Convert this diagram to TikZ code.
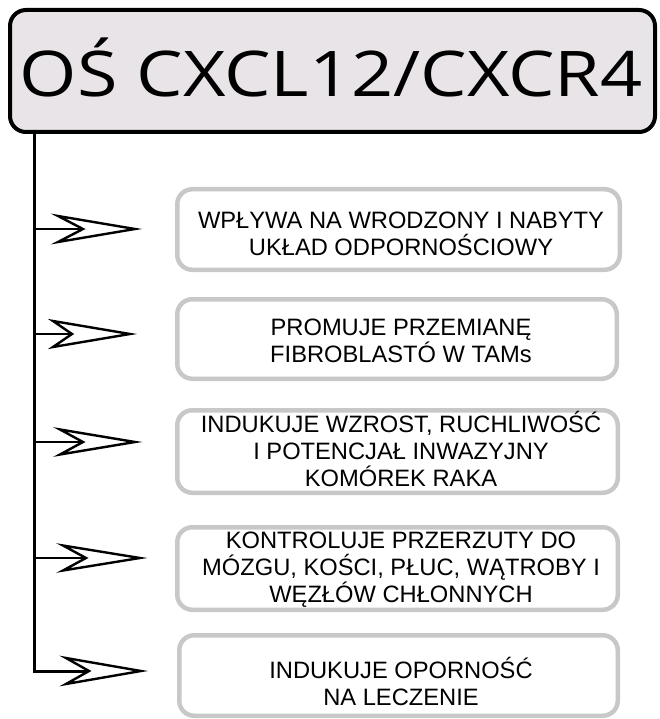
\documentclass[tikz,border=0pt]{standalone}
\usepackage{fontspec}
\setmainfont{Liberation Sans}
\newfontfamily\titlefont[FakeStretch=1.17]{Open Sans}
\definecolor{titlefill}{HTML}{E9E4E7}
\definecolor{boxline}{HTML}{C8C8C8}
\begin{document}
\begin{tikzpicture}[x=1pt,y=-1pt,
  titlebox/.style={draw=black, line width=4pt, fill=titlefill, rounded corners=16pt, inner sep=0pt},
  titletext/.style={font=\titlefont\fontsize{63}{63}\selectfont, anchor=base, inner sep=0pt},
  effectbox/.style={draw=boxline, line width=4.5pt, rounded corners=15pt, inner sep=0pt, fill=white},
  effecttext/.style={font=\fontsize{23.7}{26.8}\selectfont, align=center, anchor=base, inner sep=0pt},
  trunk/.style={line width=3pt, line join=miter},
  branch/.style={line width=2.2pt},
  dart/.style={draw=black, fill=white, line width=2.4pt, line join=miter, miter limit=12}]
\useasboundingbox (0,0) rectangle (659,719);

% heading
\node[titlebox, minimum width=645pt, minimum height=122pt] (title) at (332.5,71) {};
\node[titletext] (titlelabel) at (331,97) {OŚ CXCL12/CXCR4};

% effect boxes
\node[effectbox, minimum width=442.5pt, minimum height=80.5pt] (b1) at (398.5,229.5) {};
\node[effectbox, minimum width=439.5pt, minimum height=79.5pt] (b2) at (397,339) {};
\node[effectbox, minimum width=440.5pt, minimum height=82.5pt] (b3) at (397.5,451.5) {};
\node[effectbox, minimum width=440.5pt, minimum height=82.5pt] (b4) at (397.5,568.5) {};
\node[effectbox, minimum width=438.5pt, minimum height=80.5pt] (b5) at (398.5,675.5) {};

% labels, placed by the baseline of their last line
\node[effecttext] (t1) at (401,255) {WPŁYWA NA WRODZONY I NABYTY\\UKŁAD ODPORNOŚCIOWY};
\node[effecttext] (t2) at (401,362) {PROMUJE PRZEMIANĘ\\FIBROBLASTÓ W TAMs};
\node[effecttext] (t3) at (401,486) {INDUKUJE WZROST, RUCHLIWOŚĆ\\I POTENCJAŁ INWAZYJNY\\KOMÓREK RAKA};
\node[effecttext] (t4) at (401,602) {KONTROLUJE PRZERZUTY DO\\MÓZGU, KOŚCI, PŁUC, WĄTROBY I\\WĘZŁÓW CHŁONNYCH};
\node[effecttext] (t5) at (401,705) {INDUKUJE OPORNOŚĆ\\NA LECZENIE};

% trunk and branch points
\coordinate (top) at (34,132);
\coordinate (s1) at (34,229);
\coordinate (s2) at (34,334);
\coordinate (s3) at (34,442);
\coordinate (s4) at (34,558);
\coordinate (s5) at (34,671);

% notches of the open arrowheads
\coordinate (n1) at (83,229);
\coordinate (n2) at (72,334);
\coordinate (n3) at (83,442);
\coordinate (n4) at (86,558);
\coordinate (n5) at (89,671);

\draw[trunk] (top) -- (s5) -- (n5);
\draw[branch] (s1) -- (n1);
\draw[branch] (s2) -- (n2);
\draw[branch] (s3) -- (n3);
\draw[branch] (s4) -- (n4);

% open arrowheads
\draw[dart] (n1) -- (58,216) -- (135,229) -- (58,242) -- cycle;
\draw[dart] (n2) -- (53,321) -- (130,334) -- (53,347) -- cycle;
\draw[dart] (n3) -- (60,429.5) -- (135,442) -- (60,454.5) -- cycle;
\draw[dart] (n4) -- (63,545.5) -- (140,558) -- (63,570.5) -- cycle;
\draw[dart] (n5) -- (66,658) -- (141,671) -- (66,684) -- cycle;
\end{tikzpicture}
\end{document}
